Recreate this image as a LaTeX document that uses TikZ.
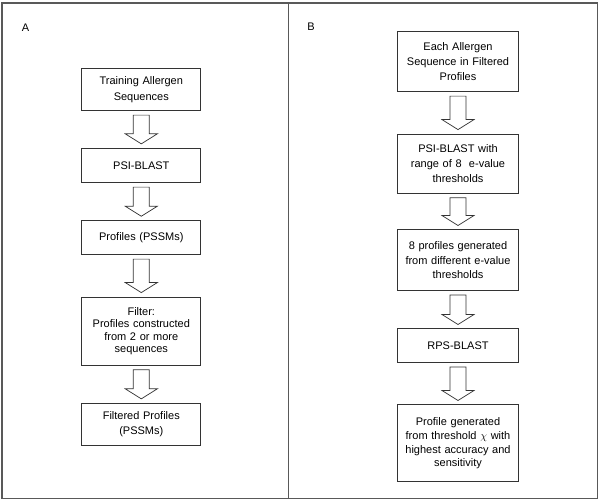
\documentclass[tikz,border=0pt]{standalone}
\usepackage{fontspec}
\setmainfont{Liberation Sans}
\usetikzlibrary{calc}
\tikzset{
  x=1pt,y=-1pt,
  box/.style={draw=black!80,line width=0.9pt,fill=white,inner sep=0pt,
    minimum width=119pt,text width=117pt,align=center,
    font=\fontsize{11}{14}\selectfont},
  barrow/.style={draw=black!80,line width=0.7pt,fill=white,line join=miter},
  frameline/.style={draw=black!65,line width=1.6pt},
  panellabel/.style={font=\fontsize{11}{13}\selectfont,inner sep=0pt}
}
\newcommand{\blockarrow}[2]{%
  \draw[barrow] ($(#1.south)+(-8,4)$) -- ($(#2.north)+(-8,-14)$)
    -- ($(#2.north)+(-16,-14)$) -- ($(#2.north)+(0,-4)$)
    -- ($(#2.north)+(16,-14)$) -- ($(#2.north)+(8,-14)$)
    -- ($(#1.south)+(8,4)$) -- cycle;}
\begin{document}
\begin{tikzpicture}
\useasboundingbox (0,0) rectangle (600,502);
\fill[white] (0,0) rectangle (600,502);
% frame
\draw[frameline] (2,3) rectangle (597.5,498.3);
\draw[frameline] (288.5,3) -- (288.5,498.3);
% labels
\node[panellabel] (la) at (25.5,27.5) {A};
\node[panellabel] (lb) at (311,26.7) {B};
% panel A
\node[box,minimum height=42.4pt,font=\fontsize{11}{15.5}\selectfont] (a1) at (141.3,89.5) {Training Allergen\\Sequences};
\node[box,minimum height=34.4pt] (a2) at (141.3,165.5) {PSI-BLAST};
\node[box,minimum height=34pt] (a3) at (141.3,237.7) {Profiles (PSSMs)};
\node[box,minimum height=68.3pt,font=\fontsize{11}{12.6}\selectfont] (a4) at (141.3,331.2) {Filter:\\Profiles constructed\\from 2 or more\\sequences};
\node[box,minimum height=42.4pt,font=\fontsize{11}{15}\selectfont] (a5) at (141.3,424.5) {Filtered Profiles\\(PSSMs)};
\blockarrow{a1}{a2}
\blockarrow{a2}{a3}
\blockarrow{a3}{a4}
\blockarrow{a4}{a5}
% panel B
\node[box,minimum width=120.6pt,minimum height=60pt,font=\fontsize{11}{14.7}\selectfont] (b1) at (458,61.7) {Each Allergen\\Sequence in Filtered\\Profiles};
\node[box,minimum width=120.6pt,minimum height=59.3pt,font=\fontsize{11}{15}\selectfont] (b2) at (458,163.7) {PSI-BLAST with\\range of 8~ e-value\\thresholds};
\node[box,minimum width=120.6pt,minimum height=60.7pt,font=\fontsize{11}{14.5}\selectfont] (b3) at (458,260.3) {8 profiles generated\\from different e-value\\thresholds};
\node[box,minimum width=120.6pt,minimum height=33.7pt] (b4) at (458,345.8) {RPS-BLAST};
\node[box,minimum width=120.6pt,minimum height=76.7pt,font=\fontsize{11}{13.9}\selectfont] (b5) at (458,443.3) {Profile generated\\from threshold $\chi$ with\\highest accuracy and\\sensitivity};
\blockarrow{b1}{b2}
\blockarrow{b2}{b3}
\blockarrow{b3}{b4}
\blockarrow{b4}{b5}
\end{tikzpicture}
\end{document}
